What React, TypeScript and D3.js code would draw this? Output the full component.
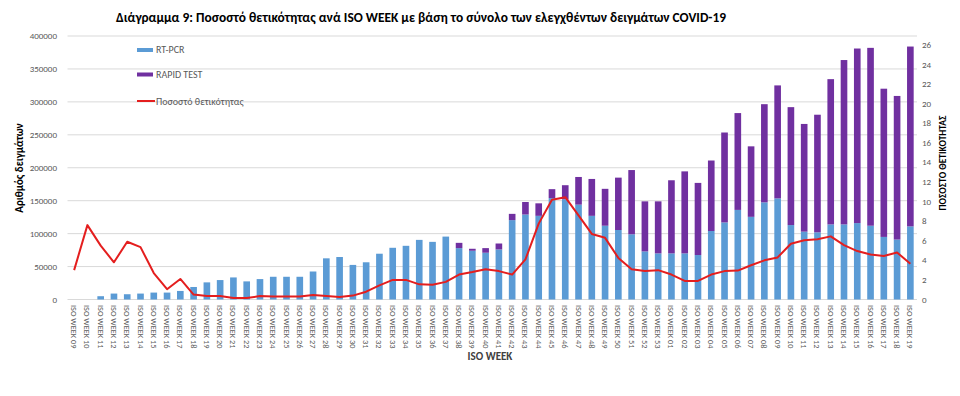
import React from "react";
import * as d3 from "d3";

const weeks2020 = ["09","10","11","12","13","14","15","16","17","18","19","20","21","22","23","24","25","26","27","28","29","30","31","32","33","34","35","36","37","38","39","40","41","42","43","44","45","46","47","48","49","50","51","52","53"];
const weeks2021 = ["01","02","03","04","05","06","07","08","09","10","11","12","13","14","15","16","17","18","19"];
const categories = [...weeks2020, ...weeks2021].map((w) => "ISO WEEK " + w);

const rtpcr = [0,0,5000,9000,8000,9000,10500,10500,13000,19000,26000,29500,33500,27500,31000,34500,34500,34500,42500,62500,64500,52500,56500,69500,78500,81500,90500,87500,95500,78000,74000,71000,76000,120500,129000,127000,154000,152000,144000,127000,112000,105500,99000,73000,70000,70000,70000,67500,104000,117000,136000,125500,147500,153500,113000,103000,102000,114000,114000,116000,112000,95000,91000,111000];
const rapid = [0,0,0,0,0,0,0,0,0,0,0,0,0,0,0,0,0,0,0,0,0,0,0,0,0,0,0,0,0,8000,3000,7000,9000,9500,19000,19000,13500,21500,42000,56000,56000,79500,97500,76000,79000,111000,124500,109500,107000,136500,147000,107000,149000,171500,179000,163500,178500,220500,249500,265000,270000,225000,218000,273000];
const positivity = [3.0,7.6,5.5,3.8,5.9,5.35,2.7,1.05,2.1,0.5,0.35,0.35,0.15,0.15,0.35,0.3,0.3,0.3,0.45,0.35,0.25,0.4,0.8,1.45,2.0,2.0,1.55,1.5,1.8,2.55,2.8,3.1,2.9,2.55,4.1,7.75,10.2,10.45,8.6,6.7,6.3,4.25,3.1,2.9,3.0,2.55,1.9,1.9,2.55,2.9,2.95,3.5,4.0,4.3,5.7,6.05,6.15,6.45,5.55,4.95,4.6,4.45,4.8,3.65];
const leftTicks = [0,50000,100000,150000,200000,250000,300000,350000,400000];
const rightTicks = [0,2,4,6,8,10,12,14,16,18,20,22,24,26];

const title = "Διάγραμμα 9: Ποσοστό  θετικότητας ανά ISO WEEK με βάση το σύνολο των ελεγχθέντων δειγμάτων COVID-19";
const legendLabels = ["RT-PCR", "RAPID TEST", "Ποσοστό θετικότητας"];

const BLUE = "#5B9BD5";
const PURPLE = "#7030A0";
const RED = "#E41E1E";
const FONT = "Calibri, Carlito, 'Liberation Sans', Arial, sans-serif";

export default function App() {
  const W = 960, H = 396;
  const x0 = 67.5, x1 = 917;
  const yBottom = 299.5;
  const x = d3.scaleBand<number>().domain(d3.range(categories.length)).range([x0, x1]).paddingInner(0.5).paddingOuter(0.25);
  const yL = d3.scaleLinear().domain([0, 400000]).range([yBottom, 36]);
  const yR = d3.scaleLinear().domain([0, 26]).range([yBottom, 45]);
  const cx = (i: number) => (x(i) as number) + x.bandwidth() / 2;
  const line = d3.line<number>().x((_, i) => cx(i)).y((d) => yR(d)).curve(d3.curveLinear);

  return (
    <svg width={W} height={H} style={{ position: "absolute", left: 0, top: 0, background: "#fff" }} fontFamily={FONT}>
      <rect x={0} y={0} width={W} height={H} fill="#fff" />
      <text x={421} y={22} textAnchor="middle" fontSize={13.4} fontWeight="bold" fill="#000">{title}</text>
      {leftTicks.map((t) => (
        <g key={"l" + t}>
          <line x1={x0} x2={x1} y1={yL(t)} y2={yL(t)} stroke="#D9D9D9" strokeWidth={1} />
          <text x={57} y={yL(t) + 3} textAnchor="end" fontSize={9} fill="#595959">{t}</text>
        </g>
      ))}
      {rightTicks.map((t) => (
        <text key={"r" + t} x={922} y={yR(t) + 3} textAnchor="start" fontSize={9} fill="#595959">{t}</text>
      ))}
      {categories.map((c, i) => (
        <g key={c}>
          <rect x={x(i)} width={x.bandwidth()} y={yL(rtpcr[i])} height={yBottom - yL(rtpcr[i])} fill={BLUE} />
          <rect x={x(i)} width={x.bandwidth()} y={yL(rtpcr[i] + rapid[i])} height={yL(rtpcr[i]) - yL(rtpcr[i] + rapid[i])} fill={PURPLE} />
          <text transform={`translate(${cx(i) - 3},305) rotate(90)`} fontSize={8.3} fill="#595959">{c}</text>
        </g>
      ))}
      <path d={line(positivity) || ""} fill="none" stroke={RED} strokeWidth={2} strokeLinejoin="round" />
      <text x={490} y={360} textAnchor="middle" fontSize={11} fontWeight="bold" fill="#404040">ISO WEEK</text>
      <text transform="translate(23,168) rotate(-90)" textAnchor="middle" fontSize={11} fontWeight="bold" fill="#000">Αριθμός δειγμάτων</text>
      <text transform="translate(946,163) rotate(-90)" textAnchor="middle" fontSize={9.5} fontWeight="bold" fill="#000">ΠΟΣΟΣΤΟ ΘΕΤΙΚΟΤΗΤΑΣ</text>
      <rect x={137} y={48} width={16} height={4} fill={BLUE} />
      <text x={156} y={53} fontSize={10} fill="#595959">{legendLabels[0]}</text>
      <rect x={137} y={72.5} width={16} height={4} fill={PURPLE} />
      <text x={156} y={78} fontSize={10} fill="#595959">{legendLabels[1]}</text>
      <line x1={137} x2={155} y1={101} y2={101} stroke={RED} strokeWidth={2} />
      <text x={156} y={104.5} fontSize={10} fill="#595959">{legendLabels[2]}</text>
    </svg>
  );
}
